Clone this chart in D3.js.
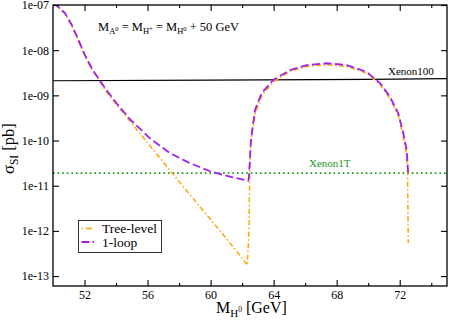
<!DOCTYPE html>
<html>
<head>
<meta charset="utf-8">
<script src="https://cdn.jsdelivr.net/npm/d3@7"></script>
<style>
  body { margin: 0; background: #fff; }
  svg { display: block; font-family: "Liberation Serif", "Times New Roman", serif; }
</style>
</head>
<body>
<div id="chart"></div>
<script>
// ---- data (mass in GeV, sigma in pb) ----
var massTree = [50.0, 50.2, 50.76, 51.19, 51.61, 52.03, 52.46, 52.98, 53.5, 54.04, 55.0, 56.0, 57.0, 58.0, 59.0, 60.0, 61.0, 62.0, 62.33,
                62.44, 62.47, 62.5, 62.62, 62.85, 63.28, 64.0, 65.04, 66.1, 67.37, 68.64, 69.9, 70.75, 71.38, 71.9, 72.2, 72.42, 72.5, 72.52, 72.54];
var sigmaTree = [1.07e-7, 1.0e-7, 6.46e-8, 3.47e-8, 1.58e-8, 7.24e-9, 3.72e-9, 2.0e-9, 1.05e-9, 6.17e-10, 2.40e-10, 8.9e-11, 3.31e-11, 1.23e-11, 4.68e-12, 1.78e-12, 6.76e-13, 2.51e-13, 1.74e-13,
                 1.0e-12, 1.0e-11, 5.0e-11, 1.32e-10, 4.17e-10, 1.02e-9, 2.0e-9, 3.39e-9, 4.37e-9, 4.79e-9, 4.37e-9, 3.09e-9, 1.74e-9, 8.51e-10, 3.63e-10, 1.32e-10, 5.25e-11, 1.58e-11, 3.16e-12, 5.37e-13];

var massLoop = [50.0, 50.2, 50.76, 51.19, 51.61, 52.03, 52.46, 52.98, 53.5, 54.04, 54.89, 56.15, 57.42, 58.69, 59.96, 61.23, 62.39,
                62.42, 62.5, 62.56, 62.65, 62.82, 63.24, 63.98, 65.04, 66.1, 67.37, 68.64, 69.9, 70.75, 71.38, 71.91, 72.23, 72.44, 72.54];
var sigmaLoop = [1.07e-7, 1.0e-7, 6.6e-8, 3.63e-8, 1.70e-8, 7.76e-9, 3.98e-9, 2.09e-9, 1.17e-9, 6.6e-10, 2.95e-10, 1.12e-10, 5.25e-11, 3.16e-11, 2.09e-11, 1.58e-11, 1.29e-11,
                 1.41e-11, 3.98e-11, 1.0e-10, 1.78e-10, 4.79e-10, 1.12e-9, 2.19e-9, 3.63e-9, 4.68e-9, 5.13e-9, 4.68e-9, 3.31e-9, 1.86e-9, 9.33e-10, 3.98e-10, 1.45e-10, 6.17e-11, 1.86e-11];

var massXenon100 = [50, 60, 70, 75];
var sigmaXenon100 = [2.1e-9, 2.17e-9, 2.26e-9, 2.34e-9];
var massXenon1T = [50, 75];
var sigmaXenon1T = [1.9e-11, 1.9e-11];

var xMajor = [52, 56, 60, 64, 68, 72];
var xMinor = [54, 58, 62, 66, 70, 74];
var yMajor = [1e-7, 1e-8, 1e-9, 1e-10, 1e-11, 1e-12, 1e-13];
var yTickLabels = ["1e-07", "1e-08", "1e-09", "1e-10", "1e-11", "1e-12", "1e-13"];

var legendNames = ["Tree-level", "1-loop"];
var colTree = "#ffa500", colLoop = "#a020f0", colGreen = "#1a961a";

var w = 449, h = 320;
var pLeft = 53, pRight = 447, pTop = 5, pBottom = 286;
var serif = "'Liberation Serif', 'Times New Roman', serif";

var svg = d3.select("#chart").append("svg")
  .attr("width", w)
  .attr("height", h)
  .attr("font-family", serif);

var x = d3.scaleLinear().domain([50, 75]).range([pLeft, pRight]);
var y = d3.scaleLog().domain([Math.pow(10, -13.22), 1e-7]).range([pBottom, pTop]);

svg.append("clipPath").attr("id", "clip")
  .append("rect")
  .attr("x", pLeft).attr("y", pTop)
  .attr("width", pRight - pLeft).attr("height", pBottom - pTop);

var line = d3.line()
  .x(function(d) { return x(d[0]); })
  .y(function(d) { return y(d[1]); });

var plot = svg.append("g").attr("clip-path", "url(#clip)");

// Xenon100 limit
plot.append("path")
  .datum(d3.zip(massXenon100, sigmaXenon100))
  .attr("d", line)
  .attr("fill", "none")
  .attr("stroke", "#000")
  .attr("stroke-width", 1.1);

// Xenon1T projection
plot.append("path")
  .datum(d3.zip(massXenon1T, sigmaXenon1T))
  .attr("d", line)
  .attr("fill", "none")
  .attr("stroke", colGreen)
  .attr("stroke-width", 1.6)
  .attr("stroke-dasharray", "1.6,3");

// tree level
plot.append("path")
  .datum(d3.zip(massTree, sigmaTree))
  .attr("d", line)
  .attr("fill", "none")
  .attr("stroke", colTree)
  .attr("stroke-width", 1.5)
  .attr("stroke-dasharray", "5,2.5,1.5,2.5");

// 1-loop
plot.append("path")
  .datum(d3.zip(massLoop, sigmaLoop))
  .attr("d", line)
  .attr("fill", "none")
  .attr("stroke", colLoop)
  .attr("stroke-width", 1.8)
  .attr("stroke-dasharray", "8,3.5");

// ---- axes: ticks inward on all four sides ----
function clean(g) {
  g.select(".domain").remove();
  g.attr("font-family", null).attr("font-size", null);
}
svg.append("g")
  .attr("transform", "translate(0," + pBottom + ")")
  .call(d3.axisBottom(x).tickValues(xMajor).tickSize(-6).tickPadding(4).tickFormat(d3.format("d")))
  .call(clean);
svg.append("g")
  .attr("transform", "translate(0," + pBottom + ")")
  .call(d3.axisBottom(x).tickValues(xMinor).tickSize(-3).tickFormat(""))
  .call(clean);
svg.append("g")
  .attr("transform", "translate(0," + pTop + ")")
  .call(d3.axisTop(x).tickValues(xMajor).tickSize(-6).tickFormat(""))
  .call(clean);
svg.append("g")
  .attr("transform", "translate(0," + pTop + ")")
  .call(d3.axisTop(x).tickValues(xMinor).tickSize(-3).tickFormat(""))
  .call(clean);

svg.append("g")
  .attr("transform", "translate(" + pLeft + ",0)")
  .call(d3.axisLeft(y).tickValues(yMajor).tickSize(-6).tickPadding(4)
    .tickFormat(function(d, i) { return yTickLabels[i]; }))
  .call(clean);
svg.append("g")
  .attr("transform", "translate(" + pRight + ",0)")
  .call(d3.axisRight(y).tickValues(yMajor).tickSize(-6).tickFormat(""))
  .call(clean);

svg.selectAll(".tick line").attr("stroke", "#000").attr("stroke-width", 1.1);
svg.selectAll(".tick text")
  .attr("fill", "#000")
  .style("font-size", "12px");

svg.append("rect")
  .attr("x", pLeft).attr("y", pTop)
  .attr("width", pRight - pLeft).attr("height", pBottom - pTop)
  .attr("fill", "none")
  .attr("stroke", "#000")
  .attr("stroke-width", 1.3);

// text with sub/superscripts: segments [text, baselineOffset, size]
function richText(g, px, py, size, segs, rotate) {
  var t = g.append("text")
    .attr("x", px).attr("y", py)
    .style("font-size", size + "px")
    .attr("fill", "#000");
  if (rotate) t.attr("transform", "rotate(-90," + px + "," + py + ")");
  var prev = 0;
  segs.forEach(function(s) {
    t.append("tspan")
      .attr("dy", s[1] - prev)
      .style("font-size", (s[2] || size) + "px")
      .text(s[0]);
    prev = s[1];
  });
  return t;
}

// axis titles
richText(svg, 216, 313, 16, [["M", 0], ["H", 4, 11], ["0", -1, 7.5], [" [GeV]", 0]]).attr("xml:space", "preserve");
richText(svg, 13.5, 174, 16.5, [["\u03c3", 0], ["SI", 4, 11.5], [" [pb]", 0]], true).attr("xml:space", "preserve");

// annotation
richText(svg, 98, 30.7, 12.5, [
  ["M", 0], ["A", 3, 8.5], ["0", 0, 6.5],
  [" = M", 0], ["H", 3, 8.5], ["+", 0, 6.5],
  [" = M", 0], ["H", 3, 8.5], ["0", 0, 6.5],
  [" + 50 GeV", 0]
]).attr("xml:space", "preserve");

// limit labels
svg.append("text")
  .attr("x", 388).attr("y", 75)
  .style("font-size", "11px")
  .attr("fill", "#000")
  .text("Xenon100");
svg.append("text")
  .attr("x", 309).attr("y", 167.3)
  .style("font-size", "11px")
  .attr("fill", colGreen)
  .text("Xenon1T");

// legend
var lg = svg.append("g");
lg.append("rect")
  .attr("x", 78.5).attr("y", 220.5)
  .attr("width", 83).attr("height", 32)
  .attr("fill", "#fff")
  .attr("stroke", "#333")
  .attr("stroke-width", 1);
var legendColors = [colTree, colLoop];
var legendDash = ["1.5,3,6,3", "8,3,1.5,3"];
legendNames.forEach(function(name, i) {
  var ly = 228.5 + i * 13.5;
  lg.append("line")
    .attr("x1", 81.5).attr("x2", 95)
    .attr("y1", ly).attr("y2", ly)
    .attr("stroke", legendColors[i])
    .attr("stroke-width", i ? 1.8 : 1.5)
    .attr("stroke-dasharray", legendDash[i]);
  lg.append("text")
    .attr("x", 102).attr("y", ly + 4.5)
    .style("font-size", "13.5px")
    .attr("fill", "#000")
    .text(name);
});
</script>
</body>
</html>
